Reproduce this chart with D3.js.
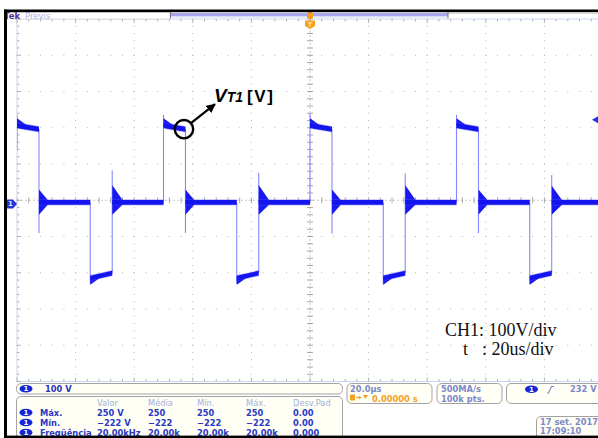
<!DOCTYPE html>
<html>
<head>
<meta charset="utf-8">
<script src="https://cdn.jsdelivr.net/npm/d3@7"></script>
<style>
html, body { margin: 0; padding: 0; background: #fff; overflow: hidden; }
svg { display: block; }
</style>
</head>
<body>
<svg id="scope" width="598" height="438"></svg>
<script>
// ---- acquisition settings ----
const timePerDiv = 20;          // µs/div
const voltsPerDiv = 100;        // V/div
const groundOffsetDiv = -0.1;   // ground marker sits 0.1 div below centre
const trigLevel = 232;          // V

// ---- switching edges of the transistor voltage (µs) ----
const edgeTimes  = [-100, -92.5, -75, -67.5, -50, -42.5, -25, -17.5, 0, 7.5, 25, 32.5, 50, 57.5, 75, 82.5];
// level at the start and at the end of each plateau (V)
const levelStart = [216, 4, -205, 4, 216, 4, -205, 4, 216, 4, -205, 4, 216, 4, -205, 4];
const levelEnd   = [206, 4, -191, 4, 206, 4, -191, 4, 206, 4, -191, 4, 206, 4, -191, 4];
// first peak right after each edge (V)
const spikeV     = [246, -80, -220, 92, 246, -80, -220, 86, 250, -82, -222, 84, 246, -80, -221, 80];
// ringing envelope after each edge (V above / below the plateau) and its duration (µs)
const ringUp     = [20, 36, 5, 48, 20, 36, 5, 48, 20, 36, 5, 48, 20, 36, 5, 46];
const ringDown   = [5, 34, 18, 34, 5, 34, 18, 34, 5, 34, 18, 34, 5, 34, 18, 34];
const ringDur    = [3, 3, 3, 3.5, 3, 3, 3, 3.5, 3, 3, 3, 3.5, 3, 3, 3, 3.5];
// noise band half-width on each plateau (V)
const noiseV     = [7, 6.5, 6.5, 6.5, 7, 6.5, 6.5, 6.5, 7, 6.5, 6.5, 6.5, 7, 6.5, 6.5, 6.5];
const firstEdgeFrom = 150;      // V, where the trace enters the screen

// ---- readouts ----
const chScaleLabel = "100 V";
const measHeaders = ["Valor", "Média", "Mín.", "Máx.", "Desv.Pad"];
const measNames   = ["Máx.", "Mín.", "Freqüência"];
const measRows    = [
  ["250 V", "250", "250", "250", "0.00"],
  ["\u2212222 V", "\u2212222", "\u2212222", "\u2212222", "0.00"],
  ["20.00kHz", "20.00k", "20.00k", "20.00k", "0.000"]
];
const timebaseLabel = "20.0\u00b5s";
const trigPosLabel  = "0.00000 s";
const sampleLabels  = ["500MA/s", "100k pts."];
const trigLabel     = "232 V";
const dateLabels    = ["17 set. 2017", "17:09:10"];
const noteLines     = ["CH1: 100V/div", ": 20us/div"];

// ---- layout ----
const W = 598, H = 438;
const gx0 = 17, gx1 = 603, gy0 = 19, gy1 = 381.5;
const svg = d3.select("#scope");

const x = d3.scaleLinear()
  .domain([-5 * timePerDiv, 5 * timePerDiv])
  .range([gx0, gx1]);
const y = d3.scaleLinear()
  .domain([(-5 - groundOffsetDiv) * voltsPerDiv, (5 - groundOffsetDiv) * voltsPerDiv])
  .range([gy1, gy0]);
const divX = d3.scaleLinear().domain([0, 10]).range([gx0, gx1]);
const divY = d3.scaleLinear().domain([0, 10]).range([gy0, gy1]);

svg.append("rect").attr("width", W).attr("height", H).attr("fill", "#fff");

// ---- graticule ----
const grid = svg.append("g");
const minors = d3.range(0, 51).map(i => i / 5);
const dotColor = "#b4b4b4";
// dotted major lines
d3.range(1, 10).filter(i => i !== 5).forEach(i => {
  grid.selectAll(null).data(minors).join("rect")
    .attr("x", divX(i) - 0.5).attr("y", d => divY(d) - 0.5)
    .attr("width", 1).attr("height", 1).attr("fill", dotColor);
  grid.selectAll(null).data(minors.filter(d => divX(d) < W)).join("rect")
    .attr("x", d => divX(d) - 0.5).attr("y", divY(i) - 0.5)
    .attr("width", 1).attr("height", 1).attr("fill", dotColor);
});
// centre axes with minor ticks
grid.append("line").attr("x1", divX(5)).attr("x2", divX(5)).attr("y1", gy0).attr("y2", gy1)
  .attr("stroke", "#b8b8b8").attr("stroke-width", 0.8).attr("stroke-dasharray", "2,2");
grid.append("line").attr("x1", gx0).attr("x2", W).attr("y1", divY(5)).attr("y2", divY(5))
  .attr("stroke", "#b8b8b8").attr("stroke-width", 0.8).attr("stroke-dasharray", "2,2");
grid.selectAll(null).data(minors).join("line")
  .attr("x1", divX(5) - 3).attr("x2", divX(5) + 3)
  .attr("y1", d => divY(d)).attr("y2", d => divY(d))
  .attr("stroke", "#939393").attr("stroke-width", 0.8);
grid.selectAll(null).data(minors.filter(d => divX(d) < W)).join("line")
  .attr("x1", d => divX(d)).attr("x2", d => divX(d))
  .attr("y1", divY(5) - 3).attr("y2", divY(5) + 3)
  .attr("stroke", "#939393").attr("stroke-width", 0.8);
// frame edges with ticks
grid.append("line").attr("x1", gx0).attr("x2", W).attr("y1", gy0).attr("y2", gy0)
  .attr("stroke", "#c9d6ef").attr("stroke-width", 1);
grid.append("line").attr("x1", gx0).attr("x2", W).attr("y1", gy1).attr("y2", gy1)
  .attr("stroke", "#c9d6ef").attr("stroke-width", 1);
grid.append("line").attr("x1", gx0).attr("x2", gx0).attr("y1", gy0).attr("y2", gy1)
  .attr("stroke", "#c9d6ef").attr("stroke-width", 1);
grid.selectAll(null).data(minors.filter(d => divX(d) < W)).join("line")
  .attr("x1", d => divX(d)).attr("x2", d => divX(d))
  .attr("y1", gy0).attr("y2", d => gy0 + (d % 1 === 0 ? 4 : 2.5))
  .attr("stroke", "#a0a0a0").attr("stroke-width", 0.8);
grid.selectAll(null).data(minors.filter(d => divX(d) < W)).join("line")
  .attr("x1", d => divX(d)).attr("x2", d => divX(d))
  .attr("y1", gy1).attr("y2", d => gy1 - (d % 1 === 0 ? 4 : 2.5))
  .attr("stroke", "#a0a0a0").attr("stroke-width", 0.8);
grid.selectAll(null).data(minors).join("line")
  .attr("x1", gx0).attr("x2", d => gx0 + (d % 1 === 0 ? 4 : 2.5))
  .attr("y1", d => divY(d)).attr("y2", d => divY(d))
  .attr("stroke", "#a0a0a0").attr("stroke-width", 0.8);

// ---- trace ----
svg.append("clipPath").attr("id", "screen")
  .append("rect").attr("x", gx0).attr("y", gy0).attr("width", W - gx0).attr("height", gy1 - gy0);
const trace = svg.append("g").attr("clip-path", "url(#screen)");

const segments = edgeTimes.map((t0, i) => ({
  t0,
  t1: i < edgeTimes.length - 1 ? edgeTimes[i + 1] : 5 * timePerDiv,
  from: i === 0 ? firstEdgeFrom : levelEnd[i - 1],
  a: levelStart[i], b: levelEnd[i],
  spike: spikeV[i], up: ringUp[i], down: ringDown[i], dur: ringDur[i], n: noiseV[i]
}));

// fast transitions: thin, faint
trace.selectAll(null).data(segments).join("line")
  .attr("x1", d => x(d.t0)).attr("x2", d => x(d.t0))
  .attr("y1", d => y(d.from)).attr("y2", d => y(d.spike))
  .attr("stroke", "#8686ff").attr("stroke-width", 1.1);

const band = d3.area().x(d => x(d.t)).y0(d => y(d.lo)).y1(d => y(d.hi));
// ringing envelope right after each edge
trace.selectAll(null).data(segments).join("path")
  .attr("d", d => {
    const mid = d.a + (d.b - d.a) * (d.dur / (d.t1 - d.t0));
    return band([
      { t: d.t0, lo: d.a - d.down, hi: d.a + d.up },
      { t: d.t0 + d.dur, lo: mid - d.n, hi: mid + d.n }
    ]);
  })
  .attr("fill", "#1818f0");
// noisy plateaus: soft halo + dense core
trace.selectAll(null).data(segments).join("path")
  .attr("d", d => band([
    { t: d.t0, lo: d.a - d.n - 2, hi: d.a + d.n + 2 },
    { t: d.t1, lo: d.b - d.n - 2, hi: d.b + d.n + 2 }
  ]))
  .attr("fill", "#5a5aff").attr("opacity", 0.4);
trace.selectAll(null).data(segments).join("path")
  .attr("d", d => band([
    { t: d.t0, lo: d.a - d.n, hi: d.a + d.n },
    { t: d.t1, lo: d.b - d.n, hi: d.b + d.n }
  ]))
  .attr("fill", "#1414ee");

// ground marker (left) and trigger level marker (right)
const gy = y(0);
svg.append("path")
  .attr("d", `M7,${gy - 4.5}h6l4,4.5l-4,4.5h-6z`).attr("fill", "#2233dd");
svg.append("text").attr("x", 10.5).attr("y", gy + 2.6).text("1")
  .attr("font-family", "DejaVu Sans").attr("font-size", 7).attr("font-weight", "bold")
  .attr("fill", "#dfe4ff").attr("text-anchor", "middle");
const ty = y(trigLevel);
svg.append("path").attr("d", `M592,${ty}l6,-3.5v7z`).attr("fill", "#2233dd");

// ---- top header ----
svg.append("rect").attr("x", 7).attr("y", 12).attr("width", 163).attr("height", 7)
  .attr("fill", "#fff").attr("stroke", "#cfcfcf").attr("stroke-width", 0.6);
svg.append("text").attr("x", 4).attr("y", 18.6).text("Tek")
  .attr("font-family", "DejaVu Sans").attr("font-size", 8.5).attr("font-weight", "bold")
  .attr("fill", "#5b2a8f");
svg.append("text").attr("x", 25).attr("y", 18.6).text("Previs")
  .attr("font-family", "DejaVu Sans").attr("font-size", 8.5)
  .attr("fill", "#a9b6e4");
svg.append("rect").attr("x", 170).attr("y", 13).attr("width", 278).attr("height", 3)
  .attr("fill", "#a7a7f1");
svg.append("rect").attr("x", 170).attr("y", 16).attr("width", 278).attr("height", 1.5)
  .attr("fill", "#dadaf8");
svg.append("line").attr("x1", 448).attr("x2", W).attr("y1", 13.5).attr("y2", 13.5)
  .attr("stroke", "#cfcfcf").attr("stroke-width", 0.8);
[170.5, 448].forEach(px => svg.append("line").attr("x1", px).attr("x2", px)
  .attr("y1", 12).attr("y2", 18.5).attr("stroke", "#777").attr("stroke-width", 1));
// trigger position markers
const tx = x(0);
svg.append("rect").attr("x", tx - 3).attr("y", 12).attr("width", 6).attr("height", 7).attr("rx", 2)
  .attr("fill", "#f6a11c");
svg.append("path").attr("d", `M${tx - 5},20.5h10v5.5l-5,3l-5,-3z`).attr("fill", "#f6a11c");
svg.append("text").attr("x", tx).attr("y", 26.5).text("T")
  .attr("font-family", "DejaVu Sans").attr("font-size", 6.5).attr("font-weight", "bold")
  .attr("fill", "#fde2b0").attr("text-anchor", "middle");

// ---- annotation ----
const ax = x(edgeTimes[5]) - 1.5, ay = y(levelEnd[4]);
const ann = svg.append("g");
ann.append("circle").attr("cx", ax).attr("cy", ay).attr("r", 9.2)
  .attr("fill", "none").attr("stroke", "#000").attr("stroke-width", 2.4);
svg.append("defs").append("marker").attr("id", "head")
  .attr("viewBox", "0 0 10 10").attr("refX", 9).attr("refY", 5)
  .attr("markerWidth", 4.2).attr("markerHeight", 4.2).attr("orient", "auto")
  .append("path").attr("d", "M0,0L10,5L0,10z").attr("fill", "#000");
ann.append("line")
  .attr("x1", ax + 7).attr("y1", ay - 6)
  .attr("x2", ax + 31).attr("y2", ay - 25)
  .attr("stroke", "#000").attr("stroke-width", 2.2).attr("marker-end", "url(#head)");
const lbl = ann.append("text").attr("x", ax + 30).attr("y", 102)
  .attr("font-family", "Liberation Sans, Arial, sans-serif").attr("font-weight", "bold").attr("fill", "#000");
lbl.append("tspan").attr("font-size", 19).attr("font-style", "italic").text("V");
lbl.append("tspan").attr("font-size", 14).attr("font-style", "italic").text("T1");
lbl.append("tspan").attr("font-size", 17).attr("dx", 4).attr("letter-spacing", 1.6).text("[V]");

// scale note
const note = svg.append("g").attr("font-family", "Liberation Serif, Times New Roman, serif")
  .attr("font-size", 18).attr("fill", "#111");
note.append("text").attr("x", 445).attr("y", 336).text(noteLines[0]);
note.append("text").attr("x", 463).attr("y", 355).text("t");
note.append("text").attr("x", 482).attr("y", 355).text(noteLines[1]);

// ---- readout panels ----
const panelFill = "#fffff5", panelStroke = "#a2a2a2";
const valBlue = "#2a38c4", dimBlue = "#a3afdb", grayBlue = "#7c89c9";
const font = "DejaVu Sans";
function panel(x0, y0, w, h) {
  svg.append("rect").attr("x", x0).attr("y", y0).attr("width", w).attr("height", h).attr("rx", 4.5)
    .attr("fill", panelFill).attr("stroke", panelStroke).attr("stroke-width", 1);
}
function pill(cx, cy) {
  svg.append("ellipse").attr("cx", cx).attr("cy", cy).attr("rx", 6.5).attr("ry", 3.8).attr("fill", "#1426d6");
  svg.append("text").attr("x", cx).attr("y", cy + 2.6).text("1")
    .attr("font-family", font).attr("font-size", 7).attr("font-weight", "bold")
    .attr("fill", "#fff").attr("text-anchor", "middle");
}
function txt(px, py, s, color, bold, size) {
  return svg.append("text").attr("x", px).attr("y", py).text(s)
    .attr("font-family", font).attr("font-size", size || 8.3)
    .attr("font-weight", bold ? "bold" : "normal").attr("fill", color);
}

panel(16.5, 383.5, 326, 10.5);
pill(26, 388.8);
txt(45, 392, chScaleLabel, "#2a34b4", true);

panel(16.5, 396.5, 326, 50);
const colX = [97, 148, 197, 246, 293];
measHeaders.forEach((h, j) => txt(colX[j], 405.5, h, dimBlue, false));
measNames.forEach((n, i) => {
  const by = 415.5 + i * 10;
  pill(26, by - 3);
  txt(40, by, n, valBlue, true);
  measRows[i].forEach((v, j) => txt(colX[j], by, v, valBlue, true));
});

panel(347, 383.5, 85, 20);
txt(350, 392, timebaseLabel, grayBlue, true);
svg.append("rect").attr("x", 350).attr("y", 394.5).attr("width", 5).attr("height", 6).attr("fill", "#f3a127");
svg.append("path").attr("d", "M356,397.5h4").attr("stroke", "#f3a127").attr("stroke-width", 1.2);
svg.append("path").attr("d", "M359,395.5l2.5,2l-2.5,2z").attr("fill", "#f3a127");
svg.append("path").attr("d", "M363,395h5l-2.5,4z").attr("fill", "#f3a127");
txt(372, 401.5, trigPosLabel, "#f3a127", true);

panel(437, 383.5, 65, 20);
txt(441, 392, sampleLabels[0], grayBlue, true);
txt(441, 401.5, sampleLabels[1], grayBlue, true);

panel(506.5, 383.5, 110, 20);
pill(531.5, 389.3);
svg.append("path").attr("d", "M547,393h1.5l3,-6.5h2.5").attr("fill", "none")
  .attr("stroke", grayBlue).attr("stroke-width", 1.1);
txt(570, 392, trigLabel, grayBlue, true);

panel(536.5, 416.5, 80, 30);
txt(540, 424.8, dateLabels[0], grayBlue, true);
txt(540, 434.2, dateLabels[1], grayBlue, true);

// ---- bezel ----
svg.append("rect").attr("x", 4).attr("y", 9.5).attr("width", W - 4).attr("height", 2.7).attr("fill", "#000");
svg.append("rect").attr("x", 4).attr("y", 9.5).attr("width", 3).attr("height", H - 9.5).attr("fill", "#000");
svg.append("rect").attr("x", 4).attr("y", 435.6).attr("width", W - 4).attr("height", 2.4).attr("fill", "#000");
</script>
</body>
</html>
